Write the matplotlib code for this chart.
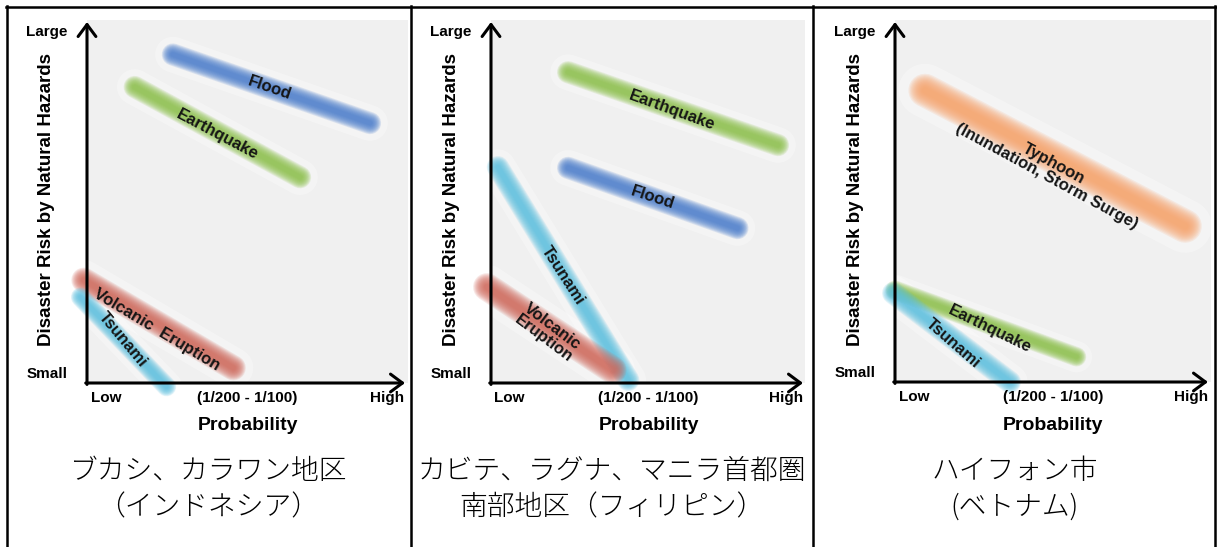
"""
Risk vs probability sketch for three study areas (Bekasi/Karawang, Cavite/Laguna, Hai Phong).
Bands are drawn as soft strokes on a grey panel, one panel per table cell.
"""
import matplotlib
matplotlib.use("Agg")
import matplotlib.pyplot as plt
import numpy as np
from matplotlib.lines import Line2D

plt.rcParams["font.family"] = ["Liberation Sans", "Noto Sans CJK JP", "DejaVu Sans"]

FIG_W, FIG_H = 1217, 547

# hazard colours
COLORS = {
    "flood": "#4a7ccc",
    "quake": "#8cc04a",
    "volcano": "#d0675a",
    "tsunami": "#5cc0e0",
    "typhoon": "#f5a268",
}

# --- panel 1: Bekasi / Karawang ---------------------------------------
P1_KEYS = ["flood", "quake", "volcano", "tsunami"]
P1_X0 = [0.27, 0.15, -0.01, -0.02]
P1_Y0 = [0.91, 0.82, 0.285, 0.238]
P1_X1 = [0.89, 0.67, 0.46, 0.25]
P1_Y1 = [0.72, 0.57, 0.042, -0.01]
P1_WIDTH = [8, 8, 9, 7]
P1_LABELS = ["Flood", "Earthquake", "Volcanic  Eruption", "Tsunami"]
P1_LX = [0.575, 0.41, 0.22, 0.113]
P1_LY = [0.817, 0.687, 0.147, 0.119]
P1_ROT = [-19, -28, -31, -50]

# --- panel 2: Cavite / Laguna / south Metro Manila ---------------------
P2_KEYS = ["quake", "flood", "tsunami", "volcano"]
P2_X0 = [0.247, 0.247, 0.022, -0.013]
P2_Y0 = [0.861, 0.596, 0.598, 0.266]
P2_X1 = [0.92, 0.79, 0.44, 0.39]
P2_Y1 = [0.659, 0.429, 0.008, 0.036]
P2_WIDTH = [8, 8, 8, 10]
P2_LABELS = ["Earthquake", "Flood", "Tsunami", "Volcanic\nEruption"]
P2_LX = [0.58, 0.519, 0.231, 0.183]
P2_LY = [0.756, 0.512, 0.299, 0.139]
P2_ROT = [-20, -18, -57, -37]

# --- panel 3: Hai Phong -------------------------------------------------
P3_KEYS = ["typhoon", "quake", "tsunami"]
P3_X0 = [0.096, 0.0, -0.006]
P3_Y0 = [0.81, 0.255, 0.247]
P3_X1 = [0.927, 0.58, 0.367]
P3_Y1 = [0.433, 0.07, 0.0]
P3_WIDTH = [12, 7, 8]
P3_LABELS = ["Typhoon\n(Inundation, Storm Surge)", "Earthquake", "Tsunami"]
P3_LX = [0.495, 0.304, 0.185]
P3_LY = [0.589, 0.147, 0.108]
P3_ROT = [-28.5, -26, -41]

CAPTIONS = [
    ["ブカシ、カラワン地区", "（インドネシア）"],
    ["カビテ、ラグナ、マニラ首都圏", "南部地区（フィリピン）"],
    ["ハイフォン市", "(ベトナム)"],
]

# plot region of each cell in pixels: origin x, origin y, arrow x end, arrow y top
PANEL_BOX = [(87, 383, 405, 22), (491, 383, 803, 22), (895, 382, 1208, 22)]
CELL_CENTER = [208.5, 612, 1014.5]
CELL_EDGES = [7, 411, 813, 1215]


def blurry_band(ax, x, y, color, width):
    # faint white smear round the stroke, then stacked translucent strokes
    ax.plot(x, y, color="white", lw=width * 3.2, alpha=0.3,
            solid_capstyle="round", clip_on=False, zorder=1)
    for lw in np.linspace(width * 2.0, width * 0.4, 12):
        ax.plot(x, y, color=color, lw=lw, alpha=0.15,
                solid_capstyle="round", clip_on=False, zorder=2)


def draw_panel(fig, box, keys, x0, y0, x1, y1, widths, labels, lx, ly, rot):
    ox, oy, xe, yt = box
    w, h = xe - ox, oy - yt
    ax = fig.add_axes([ox / FIG_W, 1 - oy / FIG_H, w / FIG_W, h / FIG_H])
    ax.set_xlim(0, 1)
    ax.set_ylim(0, 1)
    ax.axis("off")

    ax.add_patch(plt.Rectangle((0, 0), 1.008, 1.005, color="#f0f0f0",
                               lw=0, clip_on=False, zorder=0))

    for k, a, b, c, d, lw in zip(keys, x0, y0, x1, y1, widths):
        blurry_band(ax, [a, c], [b, d], COLORS[k], lw)
    for t, x, y, r in zip(labels, lx, ly, rot):
        ax.text(x, y, t, rotation=r, rotation_mode="anchor", ha="center",
                va="center", multialignment="center", linespacing=1.0,
                fontsize=12, fontweight="bold", color="#151515", zorder=5)

    arrow = dict(arrowstyle="->,head_length=0.43,head_width=0.32", lw=2.2,
                 color="black", mutation_scale=20, shrinkA=0, shrinkB=0)
    ax.annotate("", xy=(0, 1), xytext=(0, -0.004), xycoords="axes fraction",
                arrowprops=arrow, zorder=6)
    ax.annotate("", xy=(1, 0), xytext=(-0.004, 0), xycoords="axes fraction",
                arrowprops=arrow, zorder=6)

    # axis wording, offsets in pixels from the origin
    def put(px, py, s, **kw):
        ax.text(px / w, py / h, s, transform=ax.transAxes, ha="center",
                va="center", fontweight="bold", clip_on=False, **kw)

    put(-40, h - 10, "Large", fontsize=11)
    put(-40, 9, "Small", fontsize=11)
    put(0.06 * w, -15, "Low", fontsize=11)
    put(0.505 * w, -15, "(1/200 - 1/100)", fontsize=11)
    put(0.945 * w, -15, "High", fontsize=11)
    put(0.505 * w, -43, "Probability", fontsize=14)
    put(-40, oy - 200, "Disaster Risk by Natural Hazards", fontsize=13.5,
        rotation=90)
    return ax


def main():
    fig = plt.figure(figsize=(FIG_W / 100, FIG_H / 100), dpi=100)
    fig.patch.set_facecolor("white")

    draw_panel(fig, PANEL_BOX[0], P1_KEYS, P1_X0, P1_Y0, P1_X1, P1_Y1,
               P1_WIDTH, P1_LABELS, P1_LX, P1_LY, P1_ROT)
    draw_panel(fig, PANEL_BOX[1], P2_KEYS, P2_X0, P2_Y0, P2_X1, P2_Y1,
               P2_WIDTH, P2_LABELS, P2_LX, P2_LY, P2_ROT)
    draw_panel(fig, PANEL_BOX[2], P3_KEYS, P3_X0, P3_Y0, P3_X1, P3_Y1,
               P3_WIDTH, P3_LABELS, P3_LX, P3_LY, P3_ROT)

    for cx, lines in zip(CELL_CENTER, CAPTIONS):
        for py, s in zip([471, 507], lines):
            fig.text(cx / FIG_W, 1 - py / FIG_H, s, ha="center", va="center",
                     fontsize=20, fontweight="light",
                     family=["Noto Sans CJK JP", "DejaVu Sans"])

    # table rules
    for x in CELL_EDGES:
        fig.add_artist(Line2D([x / FIG_W] * 2, [0, 1 - 6 / FIG_H], color="black",
                              lw=1.8, transform=fig.transFigure))
    fig.add_artist(Line2D([6 / FIG_W, 1216 / FIG_W], [1 - 7 / FIG_H] * 2,
                          color="black", lw=1.8, transform=fig.transFigure))

    fig.savefig("out.png", dpi=100)


if __name__ == "__main__":
    main()
